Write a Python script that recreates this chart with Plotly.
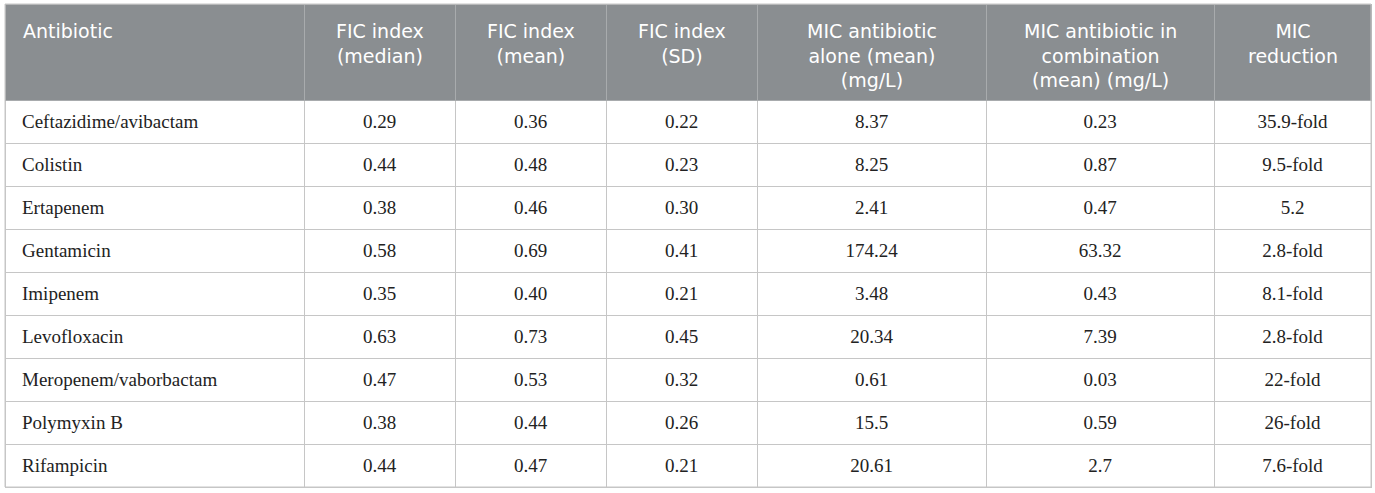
import plotly.graph_objects as go

antibiotics = ["Ceftazidime/avibactam", "Colistin", "Ertapenem", "Gentamicin", "Imipenem",
               "Levofloxacin", "Meropenem/vaborbactam", "Polymyxin B", "Rifampicin"]
fic_median = ["0.29", "0.44", "0.38", "0.58", "0.35", "0.63", "0.47", "0.38", "0.44"]
fic_mean = ["0.36", "0.48", "0.46", "0.69", "0.40", "0.73", "0.53", "0.44", "0.47"]
fic_sd = ["0.22", "0.23", "0.30", "0.41", "0.21", "0.45", "0.32", "0.26", "0.21"]
mic_alone = ["8.37", "8.25", "2.41", "174.24", "3.48", "20.34", "0.61", "15.5", "20.61"]
mic_comb = ["0.23", "0.87", "0.47", "63.32", "0.43", "7.39", "0.03", "0.59", "2.7"]
mic_reduction = ["35.9-fold", "9.5-fold", "5.2", "2.8-fold", "8.1-fold", "2.8-fold",
                 "22-fold", "26-fold", "7.6-fold"]

header_lines = [["Antibiotic"],
                ["FIC index", "(median)"],
                ["FIC index", "(mean)"],
                ["FIC index", "(SD)"],
                ["MIC antibiotic", "alone (mean)", "(mg/L)"],
                ["MIC antibiotic in", "combination", "(mean) (mg/L)"],
                ["MIC", "reduction"]]

W, H = 1375, 493
left, right, top, bottom = 5, 1371, 4, 487
col_w = [299, 151, 151, 151, 229, 228, 157]
head_h, row_h = 96, 43
pad_left = 9      # extra indent of first column text
text_drop = 6     # push body text down inside rows

n_cols = len(header_lines)
n_rows = len(antibiotics)
blank = [[""] * n_rows for _ in range(n_cols)]

fig = go.Figure()

# grid: fills and rules only
fig.add_trace(go.Table(
    domain=dict(x=[left / W, right / W], y=[0, 1 - top / H]),
    columnwidth=col_w,
    header=dict(values=[""] * n_cols, fill_color="#8a8e91",
                line=dict(color="#a8abad", width=1), height=head_h),
    cells=dict(values=blank, fill_color="white",
               line=dict(color="#c6c6c6", width=1), height=row_h),
))

# text layer
fig.add_trace(go.Table(
    domain=dict(x=[(left + pad_left) / W, right / W], y=[0, 1 - top / H]),
    columnwidth=[col_w[0] - pad_left] + col_w[1:],
    header=dict(values=[""] * n_cols, fill_color="rgba(0,0,0,0)",
                line=dict(color="rgba(0,0,0,0)", width=0), height=head_h + text_drop),
    cells=dict(
        values=[antibiotics, fic_median, fic_mean, fic_sd, mic_alone, mic_comb, mic_reduction],
        align=["left"] + ["center"] * (n_cols - 1),
        fill_color="rgba(0,0,0,0)",
        line=dict(color="rgba(0,0,0,0)", width=0),
        font=dict(family="Liberation Serif", size=19, color="#222222"),
        height=row_h,
    ),
))

# header labels: one centred multi-line annotation per column
x0 = left
for i, lines in enumerate(header_lines):
    if i == 0:
        xpos, anchor = x0 + 16, "left"
    else:
        xpos, anchor = x0 + col_w[i] / 2, "center"
    fig.add_annotation(x=xpos / W, y=1 - (top + 14) / H, xref="paper", yref="paper",
                       text="<br>".join(lines), showarrow=False, align="center",
                       xanchor=anchor, yanchor="top",
                       font=dict(family="DejaVu Sans", size=19, color="white"))
    x0 += col_w[i]

# outer frame
fig.add_shape(type="rect", xref="paper", yref="paper",
              x0=left / W, x1=right / W, y0=1 - bottom / H, y1=1 - top / H,
              line=dict(color="#c6c6c6", width=1))

fig.update_layout(width=W, height=H, margin=dict(l=0, r=0, t=0, b=0),
                  paper_bgcolor="white", plot_bgcolor="white")
fig.write_html("out.html", config={"displayModeBar": False},
               post_script="document.body.style.margin='0';")
